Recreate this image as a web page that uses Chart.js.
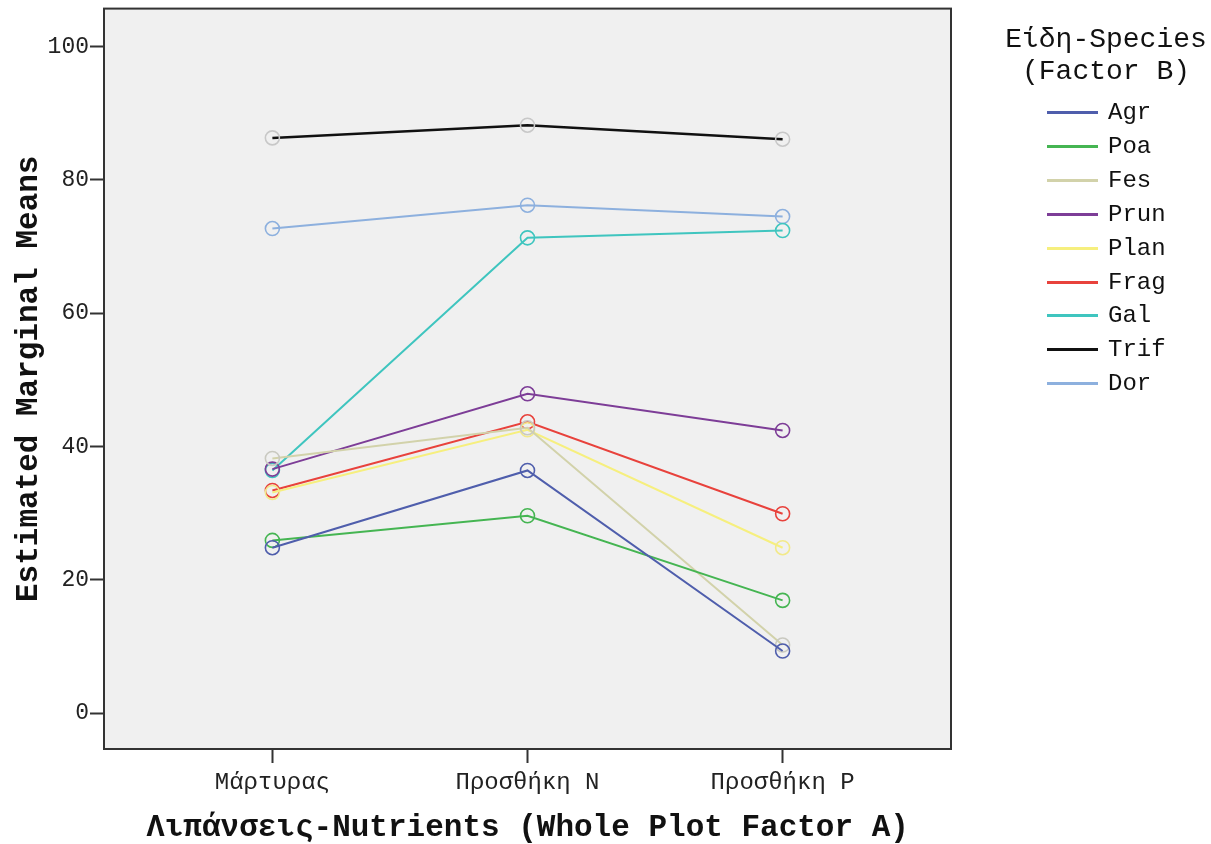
<!DOCTYPE html>
<html lang="el">
<head>
    <meta charset="UTF-8">
    <title>Estimated Marginal Means</title>
    <script src="https://cdn.jsdelivr.net/npm/chart.js"></script>
    <style>
        body {
            margin: 0;
            background: #fff;
            font-family: "Liberation Mono", monospace;
        }
        #wrap {
            position: relative;
            width: 1211px;
            height: 844px;
        }
        #legend {
            position: absolute;
            left: 990px;
            top: 24px;
            width: 232px;
            color: #111;
        }
        #legend .title {
            text-align: center;
            font-size: 28px;
            line-height: 32px;
        }
        #legend .item {
            position: absolute;
            left: 0;
            height: 34px;
            width: 232px;
        }
        #legend .swatch {
            position: absolute;
            left: 57px;
            top: 15px;
            width: 51px;
            height: 3px;
        }
        #legend .label {
            position: absolute;
            left: 118px;
            top: 0;
            font-size: 24px;
            line-height: 34px;
        }
    </style>
</head>
<body>
<div id="wrap">
    <canvas id="emmChart"></canvas>
    <div id="legend"></div>
</div>

<script>
    // nutrient levels (factor A)
    const categories = ['Μάρτυρας', 'Προσθήκη N', 'Προσθήκη P'];
    const yTicks = [0, 20, 40, 60, 80, 100];

    // species (factor B)
    const species = ['Agr', 'Poa', 'Fes', 'Prun', 'Plan', 'Frag', 'Gal', 'Trif', 'Dor'];

    const agr  = [24.8, 36.4, 9.3];
    const poa  = [25.9, 29.6, 16.9];
    const fes  = [38.2, 42.8, 10.2];
    const prun = [36.6, 47.9, 42.4];
    const plan = [33.1, 42.5, 24.8];
    const frag = [33.4, 43.7, 29.9];
    const gal  = [36.4, 71.3, 72.4];
    const trif = [86.3, 88.2, 86.1];
    const dor  = [72.7, 76.2, 74.5];

    const seriesValues = [agr, poa, fes, prun, plan, frag, gal, trif, dor];

    const lineColors   = ['#4f5eac', '#45b552', '#d2d2aa', '#7d3d97', '#f6ef7e', '#e8423c', '#3fc5bf', '#111111', '#8db0de'];
    const markerColors = ['#4f5eac', '#45b552', '#c9c9c0', '#7d3d97', '#f2e98a', '#e8423c', '#3fc5bf', '#c8c8c8', '#8db0de'];

    const monoFont = '"Liberation Mono", "DejaVu Sans Mono", monospace';

    const datasets = species.map((name, i) => ({
        label: name,
        data: seriesValues[i].map((v, j) => ({ x: j, y: v })),
        borderColor: lineColors[i],
        borderWidth: name === 'Trif' ? 2.5 : 2,
        pointRadius: 7,
        pointBorderWidth: 1.6,
        pointBorderColor: markerColors[i],
        pointBackgroundColor: 'rgba(0,0,0,0)',
        tension: 0
    }));

    // grey plot background and frame
    const plotFrame = {
        id: 'plotFrame',
        beforeDraw(chart) {
            const { ctx, chartArea: a } = chart;
            ctx.save();
            ctx.fillStyle = '#f0f0f0';
            ctx.fillRect(a.left, a.top, a.right - a.left, a.bottom - a.top);
            ctx.restore();
        },
        beforeDatasetsDraw(chart) {
            const { ctx, chartArea: a } = chart;
            ctx.save();
            ctx.strokeStyle = '#333';
            ctx.lineWidth = 2;
            ctx.strokeRect(a.left, a.top, a.right - a.left, a.bottom - a.top);
            ctx.restore();
        }
    };

    const ctx = document.getElementById('emmChart').getContext('2d');
    const chart = new Chart(ctx, {
        type: 'line',
        data: { datasets: datasets },
        options: {
            responsive: true,
            maintainAspectRatio: false,
            animation: false,
            layout: { padding: { top: 8, right: 260, left: 0, bottom: 0 } },
            plugins: {
                legend: { display: false },
                tooltip: { enabled: false }
            },
            scales: {
                x: {
                    type: 'linear',
                    min: -0.66,
                    max: 2.66,
                    afterBuildTicks: (scale) => {
                        scale.ticks = categories.map((_, i) => ({ value: i }));
                    },
                    afterFit: (scale) => { scale.height = 95; },
                    ticks: {
                        callback: (v) => categories[v],
                        color: '#222',
                        font: { family: monoFont, size: 24 },
                        padding: 5,
                        maxRotation: 0,
                        autoSkip: false
                    },
                    grid: {
                        drawOnChartArea: false,
                        tickLength: 14,
                        tickWidth: 2,
                        tickColor: '#333'
                    },
                    border: { color: '#333', width: 2 },
                    title: {
                        display: true,
                        text: 'Λιπάνσεις-Nutrients (Whole Plot Factor A)',
                        color: '#111',
                        font: { family: monoFont, size: 31, weight: 'bold', lineHeight: 1 },
                        padding: { top: 0, bottom: 0 }
                    }
                },
                y: {
                    min: -5.4,
                    max: 105.7,
                    afterBuildTicks: (scale) => {
                        scale.ticks = yTicks.map(v => ({ value: v }));
                    },
                    afterFit: (scale) => { scale.width = 104; },
                    ticks: {
                        color: '#222',
                        font: { family: monoFont, size: 23, lineHeight: 0.6 },
                        padding: 1
                    },
                    grid: {
                        drawOnChartArea: false,
                        tickLength: 14,
                        tickWidth: 2,
                        tickColor: '#333'
                    },
                    border: { color: '#333', width: 2 },
                    title: {
                        display: true,
                        text: 'Estimated Marginal Means',
                        color: '#111',
                        font: { family: monoFont, size: 31, weight: 'bold', lineHeight: 1 },
                        padding: { top: 14, bottom: 0 }
                    }
                }
            }
        },
        plugins: [plotFrame]
    });

    // legend built from the same series lists
    const legend = document.getElementById('legend');
    legend.innerHTML = '<div class="title">Είδη-Species<br>(Factor B)</div>';
    species.forEach((name, i) => {
        const item = document.createElement('div');
        item.className = 'item';
        item.style.top = (72 + i * 33.9) + 'px';
        item.innerHTML = '<div class="swatch" style="background:' + lineColors[i] + '"></div>' +
            '<div class="label">' + name + '</div>';
        legend.appendChild(item);
    });
</script>
</body>
</html>
